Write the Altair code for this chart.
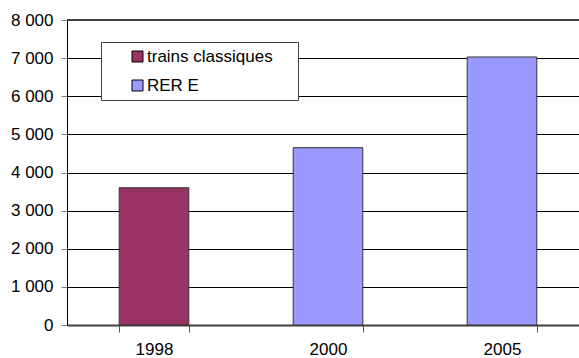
import altair as alt
import pandas as pd

# Yearly figures per service
years = ["1998", "2000", "2005"]
passengers = [3600, 4650, 7030]
services = ["trains classiques", "RER E", "RER E"]

service_order = ["trains classiques", "RER E"]
service_colors = ["#993366", "#9999FF"]
y_ticks = [0, 1000, 2000, 3000, 4000, 5000, 6000, 7000, 8000]

df = pd.DataFrame({"annee": years, "valeur": passengers, "service": services})
top_line = pd.DataFrame({"valeur": [8000]})

FONT = "Liberation Sans"
FS = 17

y_axis = alt.Axis(
    values=y_ticks,
    labelExpr="datum.value == 0 ? '0' : format(datum.value / 1000, 'd') + ' 000'",
    labelOverlap=False,
    grid=True,
    gridColor="black",
    gridWidth=1,
    gridOpacity=1,
    domainColor="black",
    domainWidth=1,
    tickColor="#808080",
    tickSize=6,
    labelPadding=8,
    labelFont=FONT,
    labelFontSize=FS,
    labelColor="black",
)
y_scale = alt.Scale(domain=[0, 8000], nice=False)

bars = alt.Chart(df).mark_bar(stroke="#333333", strokeWidth=1).encode(
    x=alt.X(
        "annee:N",
        title=None,
        sort=years,
        scale=alt.Scale(range=[0, 522], paddingInner=0.6, paddingOuter=0.3),
        axis=alt.Axis(
            labelAngle=0,
            tickBand="extent",
            tickSize=7,
            tickColor="#555555",
            domainColor="#404040",
            domainWidth=2,
            labelPadding=9,
            labelFont=FONT,
            labelFontSize=FS,
            labelColor="black",
            grid=False,
        ),
    ),
    y=alt.Y("valeur:Q", title=None, scale=y_scale, axis=y_axis),
    color=alt.Color(
        "service:N",
        scale=alt.Scale(domain=service_order, range=service_colors),
        legend=alt.Legend(
            title=None,
            orient="none",
            legendX=34,
            legendY=22,
            direction="vertical",
            strokeColor="#404040",
            fillColor="white",
            padding=6,
            symbolType="square",
            symbolSize=121,
            symbolStrokeColor="black",
            symbolStrokeWidth=1,
            symbolOpacity=1,
            symbolOffset=22,
            labelOffset=1,
            labelFont=FONT,
            labelFontSize=FS,
            labelColor="black",
            labelLimit=400,
            # keep a blank margin to the right of the labels inside the frame
            labelExpr="datum.label + '\u00a0\u00a0\u00a0\u00a0\u200b'",
            rowPadding=11,
        ),
    ),
)

# plot-area top edge
border = alt.Chart(top_line).mark_rule(color="#404040", strokeWidth=2).encode(
    y=alt.Y("valeur:Q", title=None, scale=y_scale, axis=y_axis)
)

chart = (
    alt.layer(bars, border)
    .properties(
        width=512,
        height=305,
        autosize=alt.AutoSizeParams(type="none"),
        padding={"left": 67, "top": 20, "right": 0, "bottom": 33},
        background="white",
    )
    .configure_view(stroke=None)
)

chart.save("out.html", embed_options={"renderer": "svg", "actions": False})
